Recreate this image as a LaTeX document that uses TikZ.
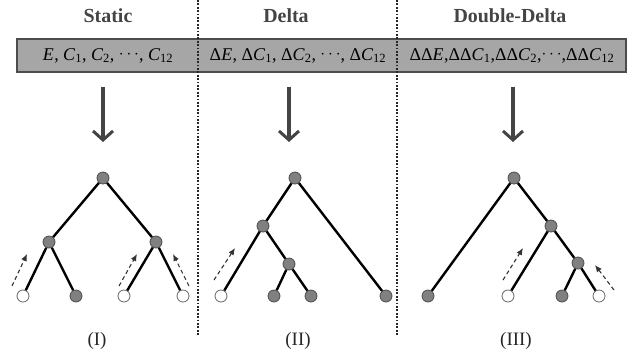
\documentclass[tikz,border=0pt]{standalone}
\usepackage{fontspec}
\setmainfont{Liberation Serif}
\usetikzlibrary{arrows.meta}
\definecolor{barfill}{HTML}{A6A6A6}
\definecolor{inkgray}{HTML}{444444}
\newcommand{\fsym}[2]{\textit{#1}\textsubscript{#2}}
\newcommand{\fdots}{\raisebox{0.15ex}{$\cdots$}}
\begin{document}
\begin{tikzpicture}[x=1bp,y=-1bp,
  title/.style={font=\fontsize{20}{22}\selectfont\bfseries, text=inkgray},
  feat/.style={font=\fontsize{18}{20}\selectfont, inner sep=0pt, text=black},
  caption/.style={font=\fontsize{19}{21}\selectfont, text=black!85},
  inner/.style={circle, draw=black!70, fill=black!50, line width=0.8bp, minimum size=12bp, inner sep=0pt},
  gleaf/.style={inner},
  wleaf/.style={circle, draw=black!60, fill=white, line width=0.8bp, minimum size=12bp, inner sep=0pt},
  edge/.style={line width=2.4bp, black},
  big/.style={-{Straight Barb[length=9bp,width=20bp,line width=3bp]}, line width=4bp, inkgray},
  hint/.style={-{Latex[length=7bp,width=6bp]}, dashed, dash pattern=on 4bp off 3bp, line width=1.1bp, black!80},
  sep/.style={line width=2.6bp, dash pattern=on 1.8bp off 1.6bp, black!85}
]
\useasboundingbox (0,0) rectangle (638,363);

\node[title] (tstatic) at (108,16) {Static};
\node[title] (tdelta) at (286,16) {Delta};
\node[title] (tddelta) at (510,16) {Double-Delta};

\draw[draw=black!70, line width=1.5bp, fill=barfill] (17,39) rectangle (626,72);
\node[feat] (fstatic) at (108,55.5) {\fsym{E}{}, \fsym{C}{1}, \fsym{C}{2}, \fdots, \fsym{C}{12}};
\node[feat] (fdelta) at (298,55.5) {Δ\fsym{E}{}, Δ\fsym{C}{1}, Δ\fsym{C}{2}, \fdots, Δ\fsym{C}{12}};
\node[feat] (fddelta) at (512,55.5) {ΔΔ\fsym{E}{},ΔΔ\fsym{C}{1},ΔΔ\fsym{C}{2},\fdots,ΔΔ\fsym{C}{12}};

\coordinate (s1top) at (198,0);
\coordinate (s1bot) at (198,336);
\coordinate (s2top) at (397,0);
\coordinate (s2bot) at (397,336);
\draw[sep] (s1top) -- (s1bot);
\draw[sep] (s2top) -- (s2bot);

\coordinate (a1) at (103,87);
\coordinate (b1) at (103,142);
\coordinate (a2) at (289,87);
\coordinate (b2) at (289,142);
\coordinate (a3) at (513,87);
\coordinate (b3) at (513,142);
\draw[big] (a1) -- (b1);
\draw[big] (a2) -- (b2);
\draw[big] (a3) -- (b3);

\node[inner] (r1) at (103,178) {};
\node[inner] (p1) at (49,242) {};
\node[inner] (q1) at (156,242) {};
\node[wleaf] (l11) at (23,296) {};
\node[gleaf] (l12) at (76,296) {};
\node[wleaf] (l13) at (124,296) {};
\node[wleaf] (l14) at (183,296) {};
\draw[edge] (r1) -- (p1);
\draw[edge] (r1) -- (q1);
\draw[edge] (p1) -- (l11);
\draw[edge] (p1) -- (l12);
\draw[edge] (q1) -- (l13);
\draw[edge] (q1) -- (l14);

\node[inner] (r2) at (295,178) {};
\node[inner] (p2) at (263,226) {};
\node[inner] (q2) at (289,264) {};
\node[wleaf] (l21) at (221,296) {};
\node[gleaf] (l22) at (274,296) {};
\node[gleaf] (l23) at (311,296) {};
\node[gleaf] (l24) at (386,296) {};
\draw[edge] (r2) -- (p2);
\draw[edge] (r2) -- (l24);
\draw[edge] (p2) -- (l21);
\draw[edge] (p2) -- (q2);
\draw[edge] (q2) -- (l22);
\draw[edge] (q2) -- (l23);

\node[inner] (r3) at (514,178) {};
\node[inner] (p3) at (551,226) {};
\node[inner] (q3) at (578,263) {};
\node[gleaf] (l31) at (428,296) {};
\node[wleaf] (l32) at (508,296) {};
\node[gleaf] (l33) at (562,296) {};
\node[wleaf] (l34) at (599,296) {};
\draw[edge] (r3) -- (l31);
\draw[edge] (r3) -- (p3);
\draw[edge] (p3) -- (l32);
\draw[edge] (p3) -- (q3);
\draw[edge] (q3) -- (l33);
\draw[edge] (q3) -- (l34);

\coordinate (h1s) at (12,286);
\coordinate (h1e) at (27,254);
\coordinate (h2s) at (119,286);
\coordinate (h2e) at (137,254);
\coordinate (h3s) at (189,286);
\coordinate (h3e) at (173,254);
\coordinate (h4s) at (214,280);
\coordinate (h4e) at (235,248);
\coordinate (h5s) at (503,280);
\coordinate (h5e) at (523,248);
\coordinate (h6s) at (614,290);
\coordinate (h6e) at (595,265);
\draw[hint] (h1s) -- (h1e);
\draw[hint] (h2s) -- (h2e);
\draw[hint] (h3s) -- (h3e);
\draw[hint] (h4s) -- (h4e);
\draw[hint] (h5s) -- (h5e);
\draw[hint] (h6s) -- (h6e);

\node[caption] (cI) at (97,341) {(I)};
\node[caption] (cII) at (298,341) {(II)};
\node[caption] (cIII) at (516,341) {(III)};
\end{tikzpicture}
\end{document}
